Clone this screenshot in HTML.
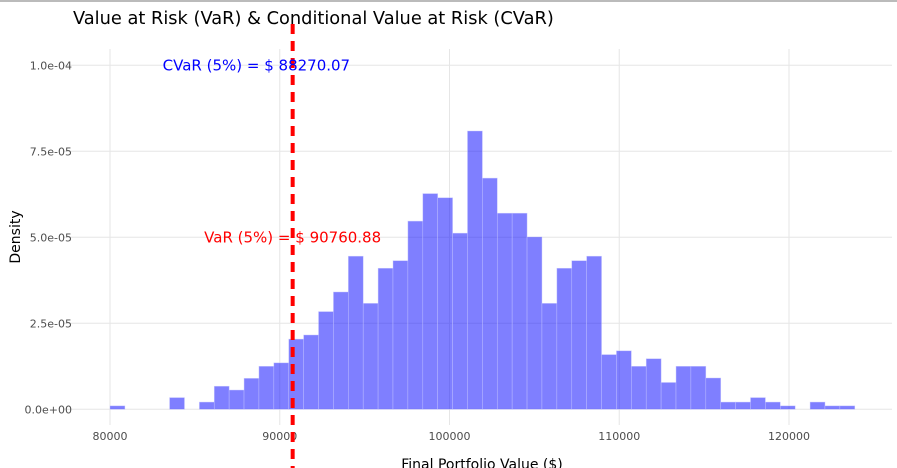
<!DOCTYPE html>
<html><head><meta charset="utf-8">
<style>
html,body{margin:0;padding:0;background:#fff;}
body{width:897px;height:468px;overflow:hidden;border-top:2px solid #bbb;box-sizing:border-box;}
svg{display:block;font-family:"DejaVu Sans","Liberation Sans",sans-serif;}
</style></head>
<body>
<svg id="chart" width="897" height="466" viewBox="0 2 897 466"></svg>
<script>
const binStart = 80000;
const binWidth = 877.5;
const densities = [1.0e-6,0,0,0,3.4e-6,0,2.1e-6,6.7e-6,5.6e-6,9.0e-6,1.25e-5,1.35e-5,2.04e-5,2.16e-5,2.84e-5,3.41e-5,4.45e-5,3.08e-5,4.10e-5,4.32e-5,5.47e-5,6.27e-5,6.15e-5,5.12e-5,8.09e-5,6.72e-5,5.70e-5,5.70e-5,5.01e-5,3.08e-5,4.10e-5,4.32e-5,4.45e-5,1.59e-5,1.70e-5,1.25e-5,1.47e-5,7.8e-6,1.25e-5,1.25e-5,9.1e-6,2.1e-6,2.1e-6,3.4e-6,2.1e-6,1.0e-6,0,2.1e-6,1.0e-6,1.0e-6];
const xTicks = [80000,90000,100000,110000,120000];
const yTicks = [0,2.5e-5,5e-5,7.5e-5,1e-4];
const yTickLabels = ["0.0e+00","2.5e-05","5.0e-05","7.5e-05","1.0e-04"];
const varValue = 90760.88;
const cvarValue = 88270.07;

const NS="http://www.w3.org/2000/svg";
const svg=document.getElementById('chart');
const X=v=>110+(v-80000)*0.016975;
const Y=v=>409.3-v*3440000;
function el(tag,attrs,parent){const e=document.createElementNS(NS,tag);for(const k in attrs)e.setAttribute(k,attrs[k]);(parent||svg).appendChild(e);return e;}

const grid=el('g',{});


yTicks.forEach((t,i)=>{
  el('line',{x1:63,x2:892,y1:Y(t),y2:Y(t),stroke:'#e6e6e6','stroke-width':1},grid);
  const tx=el('text',{x:72,y:Y(t)+4,'text-anchor':'end','font-size':11,fill:'#4d4d4d'});
  
  
  tx.textContent=yTickLabels[i];
});
xTicks.forEach(t=>{
  el('line',{x1:X(t),x2:X(t),y1:49,y2:425,stroke:'#e6e6e6','stroke-width':1},grid);
  const tx=el('text',{x:X(t),y:440,'text-anchor':'middle','font-size':11,fill:'#4d4d4d'});
  
  
  tx.textContent=String(t);
});

const bars=el('g',{});


densities.forEach((d,i)=>{
  if(d<=0)return;
  const x0=X(binStart+i*binWidth),x1=X(binStart+(i+1)*binWidth);
  const r=el('rect',{x:x0,y:Y(d),width:x1-x0,height:Y(0)-Y(d),fill:'rgba(0,0,255,0.5)',stroke:'rgba(200,200,255,0.7)','stroke-width':0.6},bars);
  
  
});

const vl=el('line',{x1:X(varValue),x2:X(varValue),y1:24,y2:468,stroke:'#ff0000','stroke-width':4,'stroke-dasharray':'10,7'});



const vt=el('text',{x:X(varValue),y:Y(5e-5)+5,'text-anchor':'middle','font-size':15,fill:'#ff0000'});


vt.textContent='VaR (5%) = $ '+varValue.toFixed(2);

const ct=el('text',{x:X(cvarValue)+6,y:Y(1e-4)+5,'text-anchor':'middle','font-size':15,fill:'#0000ff'});


ct.textContent='CVaR (5%) = $ '+cvarValue.toFixed(2);

const title=el('text',{x:73,y:24,'font-size':17.8,fill:'#000'});


title.textContent='Value at Risk (VaR) & Conditional Value at Risk (CVaR)';

const xt=el('text',{x:482,y:469,'text-anchor':'middle','font-size':14,fill:'#000'});


xt.textContent='Final Portfolio Value ($)';

const yt=el('text',{x:0,y:0,'text-anchor':'middle','font-size':14,fill:'#000',transform:'translate(20,237) rotate(-90)'});


yt.textContent='Density';
</script>
</body></html>
